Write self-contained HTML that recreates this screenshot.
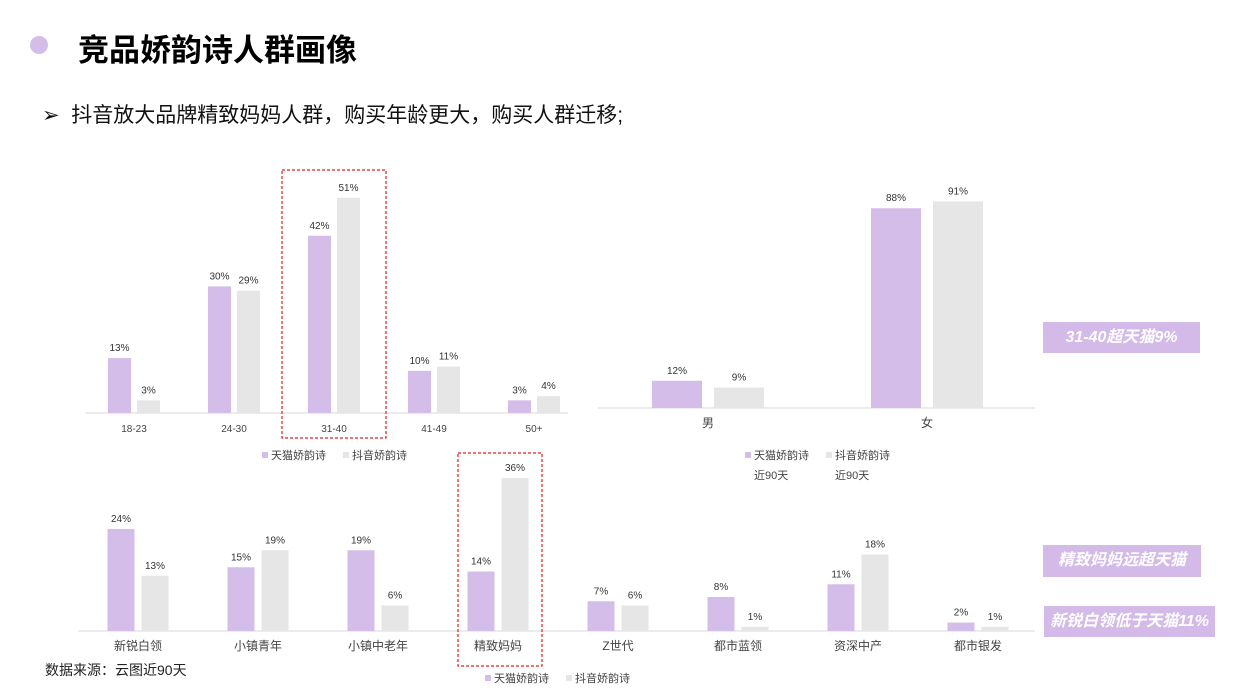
<!DOCTYPE html>
<html><head><meta charset="utf-8"><style>
body{margin:0;width:1240px;height:697px;background:#fff;overflow:hidden;font-family:"Liberation Sans","Noto Sans CJK SC",sans-serif;position:relative}
.abs{position:absolute}
.call{position:absolute;background:#d4bae8;color:#fff;font-weight:bold;font-style:italic;font-size:16px;text-align:center;line-height:31px}
svg text{font-family:"Liberation Sans","Noto Sans CJK SC",sans-serif}
</style></head><body>
<div class="abs" style="left:30px;top:36px;width:18px;height:18px;border-radius:50%;background:#d5bde9"></div>
<div class="abs" style="left:78px;top:25px;font-size:31px;font-weight:bold;color:#000">竞品娇韵诗人群画像</div>
<div class="abs" style="left:42px;top:99px;font-size:21px;color:#111">➢&nbsp; 抖音放大品牌精致妈妈人群，购买年龄更大，购买人群迁移;</div>
<div class="abs" style="left:45px;top:660px;font-size:14px;color:#222">数据来源：云图近90天</div>
<div class="call" style="left:1043px;top:322px;width:157px;height:31px">31-40超天猫9%</div>
<div class="call" style="left:1043px;top:545px;width:158px;height:32px">精致妈妈远超天猫</div>
<div class="call" style="left:1044px;top:606px;width:171px;height:31px">新锐白领低于天猫11%</div>
<svg id="chart" class="abs" style="left:0;top:0" width="1240" height="697"></svg>
<script>
const ageCats=["18-23","24-30","31-40","41-49","50+"];
const ageTmall=[13,30,42,10,3];
const ageDouyin=[3,29,51,11,4];
const genCats=["男","女"];
const genTmall=[12,88];
const genDouyin=[9,91];
const grpCats=["新锐白领","小镇青年","小镇中老年","精致妈妈","Z世代","都市蓝领","资深中产","都市银发"];
const grpTmall=[24,15,19,14,7,8,11,2];
const grpDouyin=[13,19,6,36,6,1,18,1];
const P="#d5bde9",G="#e6e6e6";
const svg=document.getElementById('chart');
function el(t,a,txt){const e=document.createElementNS('http://www.w3.org/2000/svg',t);for(const k in a)e.setAttribute(k,a[k]);if(txt!=null)e.textContent=txt;svg.appendChild(e);return e;}
function chart(name,cats,s1,s2,o){
  const ax=el('line',{x1:o.x0,x2:o.x1,y1:o.base,y2:o.base,stroke:'#d9d9d9','stroke-width':1});
  
  
  cats.forEach((c,i)=>{
    const cx=o.c0+i*o.step;
    [[s1,P,-o.gap/2-o.w,'tmall'],[s2,G,o.gap/2,'douyin']].forEach(([s,col,off,nm])=>{
      const h=s[i]*o.k;
      const r=el('rect',{x:cx+off,y:o.base-h,width:o.w,height:h,fill:col});
      
      
      const t=el('text',{x:cx+off+o.w/2,y:o.base-h-7,'font-size':10,'text-anchor':'middle',fill:'#333'},s[i]+'%');
      
      
    });
    const l=el('text',{x:cx,y:o.base+19,'font-size':o.fs,'text-anchor':'middle',fill:'#444'},c);
    
    
  });
}
chart('age',ageCats,ageTmall,ageDouyin,{x0:85,x1:568,base:413,c0:134,step:100,w:23,gap:6,k:4.22,fs:10});
chart('gender',genCats,genTmall,genDouyin,{x0:598,x1:1035,base:408,c0:708,step:219,w:50,gap:12,k:2.27,fs:12});
chart('group',grpCats,grpTmall,grpDouyin,{x0:78,x1:1035,base:631,c0:138,step:120,w:27,gap:7,k:4.25,fs:12});
function legend(x,y,name,l1,l2,dx,sub){
  const a=el('rect',{x:x,y:y-7,width:6,height:6,fill:P});
  const b=el('text',{x:x+9,y:y,'font-size':11,fill:'#444'},l1);
  const c=el('rect',{x:x+dx,y:y-7,width:6,height:6,fill:G});
  const d=el('text',{x:x+dx+9,y:y,'font-size':11,fill:'#444'},l2);
  if(sub){
    const e=el('text',{x:x+9,y:y+20,'font-size':11,fill:'#444'},sub);
    const f=el('text',{x:x+dx+9,y:y+20,'font-size':11,fill:'#444'},sub);
  }
}
legend(262,459,'age','天猫娇韵诗','抖音娇韵诗',81);
legend(745,459,'gender','天猫娇韵诗','抖音娇韵诗',81,'近90天');
legend(485,682,'group','天猫娇韵诗','抖音娇韵诗',81);
const b1=el('rect',{x:282,y:170,width:104,height:268,fill:'none',stroke:'#e02020','stroke-dasharray':'3,2','stroke-width':1.2});

const b2=el('rect',{x:458,y:453,width:84,height:213,fill:'none',stroke:'#e02020','stroke-dasharray':'3,2','stroke-width':1.2});

</script>
</body></html>
